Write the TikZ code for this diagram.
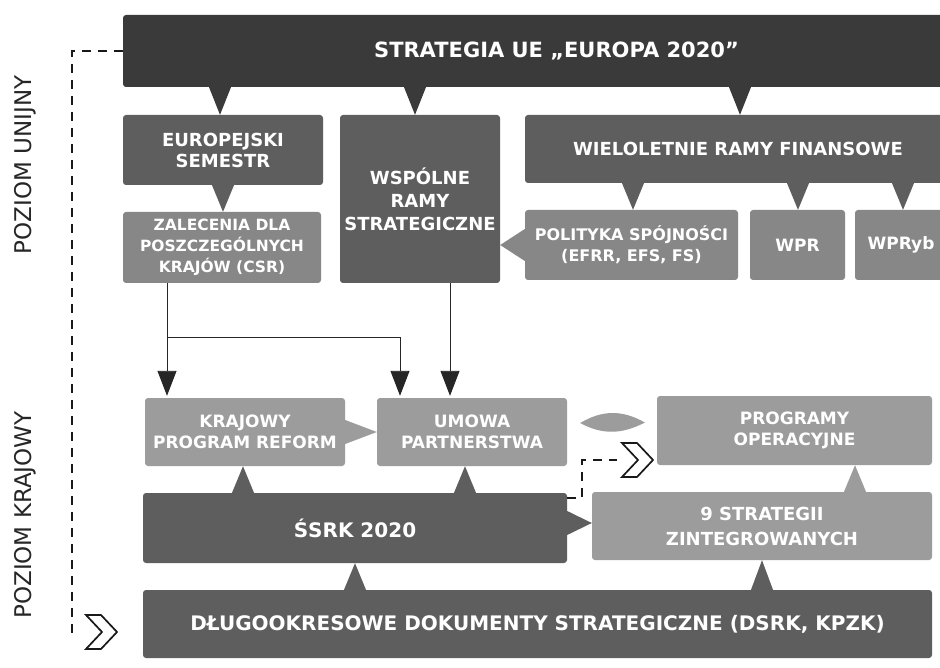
\documentclass[tikz,border=0pt]{standalone}
\usepackage{fontspec}
\setmainfont{DejaVu Sans}
\usetikzlibrary{arrows.meta, calc}

\definecolor{boxtop}{HTML}{3A3A3A}
\definecolor{boxdark}{HTML}{5E5E5E}
\definecolor{boxmid}{HTML}{878787}
\definecolor{boxlight}{HTML}{9C9C9C}

% callout wedges: [colour]{from}{to}{x or y}
\newcommand\calldown[4][boxdark]{\fill[#1] ($(#2.south -| #4,0)+(-11,0)$) -- ($(#2.south -| #4,0)+(11,0)$) -- (#3.north -| #4,0) -- cycle;}
\newcommand\callup[4][boxdark]{\fill[#1] ($(#2.north -| #4,0)+(-11,0)$) -- ($(#2.north -| #4,0)+(11,0)$) -- (#3.south -| #4,0) -- cycle;}
\newcommand\callright[4][boxdark]{\fill[#1] ($(#2.east |- 0,#4)+(0,-12)$) -- ($(#2.east |- 0,#4)+(0,12)$) -- (#3.west |- 0,#4) -- cycle;}
\newcommand\callleft[4][boxdark]{\fill[#1] ($(#2.west |- 0,#4)+(0,-16)$) -- ($(#2.west |- 0,#4)+(0,16)$) -- (#3.east |- 0,#4) -- cycle;}

\begin{document}
\begin{tikzpicture}[x=1pt, y=-1pt,
    box/.style={rectangle, rounded corners=3pt, inner sep=0pt, align=center, text=white},
    topbox/.style={box, fill=boxtop, font=\fontsize{21pt}{24pt}\selectfont\bfseries},
    darkbox/.style={box, fill=boxdark, font=\fontsize{18pt}{21pt}\selectfont\bfseries},
    midbox/.style={box, fill=boxmid, font=\fontsize{16pt}{21pt}\selectfont\bfseries},
    lightbox/.style={box, fill=boxlight, font=\fontsize{17pt}{21pt}\selectfont\bfseries},
    level/.style={rotate=90, text=black!85, font=\fontsize{23pt}{26pt}\selectfont},
    arr/.style={-{Triangle[width=19pt,length=25pt]}, line width=0.9pt, black!85, shorten >=2pt},
    dashline/.style={dash pattern=on 9pt off 7pt, line width=1.8pt, black!90},
    chevron/.style={draw=black!90, line width=1.7pt, fill=white, line join=miter}]

    \clip (0,0) rectangle (940,668);
    \fill[white] (0,0) rectangle (940,668);

    \node[level] (unijny) at (25,165) {POZIOM UNIJNY};
    \node[level] (krajowy level) at (25,515) {POZIOM KRAJOWY};

    % poziom unijny
    \node[topbox, minimum width=867pt, minimum height=72pt] (strategia) at (556.5,51) {STRATEGIA UE „EUROPA 2020”};
    \node[darkbox, minimum width=200pt, minimum height=70pt] (europejski) at (223,150) {EUROPEJSKI\\SEMESTR};
    \node[midbox, font=\fontsize{15.5pt}{21pt}\selectfont\bfseries, minimum width=198pt, minimum height=71pt] (zalecenia) at (222,247.5) {ZALECENIA DLA\\POSZCZEGÓLNYCH\\KRAJÓW (CSR)};
    \node[darkbox, font=\fontsize{18pt}{23pt}\selectfont\bfseries, minimum width=160pt, minimum height=168pt] (wspolne) at (420,199) {WSPÓLNE\\RAMY\\STRATEGICZNE};
    \node[darkbox, minimum width=426pt, minimum height=68pt] (wieloletnie) at (738,149) {WIELOLETNIE RAMY FINANSOWE};
    \node[midbox, minimum width=213pt, minimum height=70pt] (polityka) at (631.5,245) {POLITYKA SPÓJNOŚCI\\(EFRR, EFS, FS)};
    \node[midbox, font=\fontsize{17pt}{21pt}\selectfont\bfseries, minimum width=95pt, minimum height=70pt] (wpr) at (797.5,245) {WPR};
    \node[midbox, font=\fontsize{17pt}{21pt}\selectfont\bfseries, minimum width=92pt, minimum height=70pt] (wpryb) at (901,245) {WPRyb};

    % poziom krajowy
    \node[lightbox, minimum width=200pt, minimum height=68pt] (krajowy) at (245,432) {KRAJOWY\\PROGRAM REFORM};
    \node[lightbox, minimum width=190pt, minimum height=68pt] (umowa) at (472,432) {UMOWA\\PARTNERSTWA};
    \node[lightbox, minimum width=275pt, minimum height=69pt] (programy) at (794.5,430.5) {PROGRAMY\\OPERACYJNE};
    \node[darkbox, font=\fontsize{20pt}{24pt}\selectfont\bfseries, minimum width=424pt, minimum height=70pt] (ssrk) at (355,528) {ŚSRK 2020};
    \node[lightbox, font=\fontsize{18pt}{25pt}\selectfont\bfseries, minimum width=340pt, minimum height=68pt] (zintegrowane) at (762,526) {9 STRATEGII\\ZINTEGROWANYCH};
    \node[darkbox, font=\fontsize{20pt}{24pt}\selectfont\bfseries, minimum width=789pt, minimum height=68pt] (dlugo) at (537.5,624) {DŁUGOOKRESOWE DOKUMENTY STRATEGICZNE (DSRK, KPZK)};

    % wedges between boxes
    \calldown[boxtop]{strategia}{europejski}{220}
    \calldown[boxtop]{strategia}{wspolne}{415}
    \calldown[boxtop]{strategia}{wieloletnie}{740}
    \calldown{europejski}{zalecenia}{223}
    \calldown{wieloletnie}{polityka}{633}
    \calldown{wieloletnie}{wpr}{798}
    \calldown{wieloletnie}{wpryb}{903}
    \callleft[boxmid]{polityka}{wspolne}{245}
    \callup{ssrk}{krajowy}{243}
    \callup{ssrk}{umowa}{465}
    \callright{ssrk}{zintegrowane}{523}
    \callright[boxlight]{krajowy}{umowa}{432}
    \callup[boxlight]{zintegrowane}{programy}{855}
    \callup{dlugo}{ssrk}{355}
    \callup{dlugo}{zintegrowane}{762}

    % umowa - programy
    \fill[boxlight] ($(umowa.east)+(13,-9)$) .. controls ($(umowa.east)+(35,-22)$) and ($(programy.west)+(-35,-21)$) .. ($(programy.west)+(-12,-8)$)
        .. controls ($(programy.west)+(-35,4)$) and ($(umowa.east)+(35,3)$) .. cycle;

    % arrows
    \draw[arr] (zalecenia.south -| 167,0) -- (krajowy.north -| 167,0);
    \draw[arr] (zalecenia.south -| 167,0) -- ++(0,54) -| (umowa.north -| 400,0);
    \draw[arr] (wspolne.south -| 450,0) -- (umowa.north -| 450,0);

    % dashed links
    \coordinate (chevA) at (101,632);
    \coordinate (chevB) at (637,460);
    \draw[dashline] (strategia.west) -| ($(chevA)+(-29,0)$) -- ($(chevA)+(-22,0)$);
    \draw[dashline] ($(ssrk.north east)+(0,5)$) -- ++(15,0) |- ($(chevB)+(-20,0)$);
    \draw[chevron, shift={(chevA)}] (-15,-17) -- (0,-17) -- (16,0) -- (0,17) -- (-15,17) -- (1,0) -- cycle;
    \draw[chevron, shift={(chevB)}] (-15,-17) -- (0,-17) -- (16,0) -- (0,17) -- (-15,17) -- (1,0) -- cycle;

\end{tikzpicture}
\end{document}
